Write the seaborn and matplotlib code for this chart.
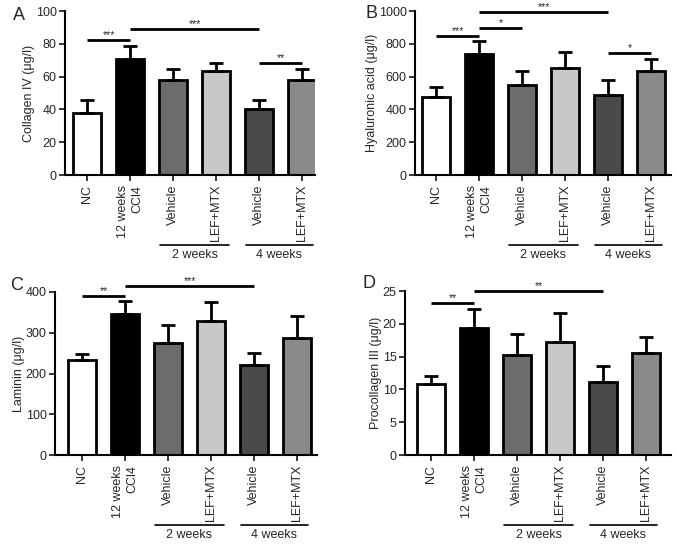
import matplotlib
matplotlib.use("Agg")
import matplotlib.pyplot as plt
import matplotlib.transforms as mtransforms
import seaborn as sns
import numpy as np
import pandas as pd

sns.set_theme(style="ticks")
plt.rcParams['font.family'] = ['Liberation Sans', 'DejaVu Sans']
plt.rcParams['font.stretch'] = 'normal'

# ---- data ----
groups = ["NC", "CCl4", "Veh2", "LEF2", "Veh4", "LEF4"]
tick_labels = ["NC", "12 weeks\nCCl4", "Vehicle", "LEF+MTX", "Vehicle", "LEF+MTX"]
bar_colors = ["#ffffff", "#000000", "#6c6c6c", "#c8c8c8", "#4a4a4a", "#8a8a8a"]

collagen_mean = [38, 70.5, 58, 63.5, 40.5, 58]
collagen_top = [45.5, 78.5, 64.5, 68.5, 46, 64.5]

hyaluronic_mean = [478, 738, 550, 655, 490, 637]
hyaluronic_top = [538, 820, 635, 750, 578, 707]

laminin_mean = [233, 347, 275, 328, 222, 288]
laminin_top = [247, 377, 320, 376, 251, 340]

procollagen_mean = [10.8, 19.4, 15.2, 17.2, 11.2, 15.6]
procollagen_top = [12.0, 22.3, 18.5, 21.7, 13.5, 18.0]

panels = [
    dict(letter="A", mean=collagen_mean, top=collagen_top, ylabel="Collagen IV (\u03bcg/l)",
         ylim=(0, 100), yticks=[0, 20, 40, 60, 80, 100],
         px=(65, 315, 11, 175), nc=87,
         sig=[(0, 1, 82.3, "***"), (1, 4, 88.8, "***"), (4, 5, 68.5, "**")],
         letter_pos=(13, 16)),
    dict(letter="B", mean=hyaluronic_mean, top=hyaluronic_top, ylabel="Hyaluronic acid (\u03bcg/l)",
         ylim=(0, 1000), yticks=[0, 200, 400, 600, 800, 1000],
         px=(415, 671, 11, 175), nc=436,
         sig=[(0, 1, 849, "***"), (1, 2, 898, "*"), (1, 4, 996, "***"), (4, 5, 742, "*")],
         letter_pos=(366, 14)),
    dict(letter="C", mean=laminin_mean, top=laminin_top, ylabel="Laminin (\u03bcg/l)",
         ylim=(0, 400), yticks=[0, 100, 200, 300, 400],
         px=(55, 317, 292, 455), nc=82,
         sig=[(0, 1, 389, "**"), (1, 4, 414.7, "***")],
         letter_pos=(10, 285)),
    dict(letter="D", mean=procollagen_mean, top=procollagen_top, ylabel="Procollagen III (\u03bcg/l)",
         ylim=(0, 25), yticks=[0, 5, 10, 15, 20, 25],
         px=(405, 671, 291, 455), nc=431,
         sig=[(0, 1, 23.2, "**"), (1, 4, 25.05, "**")],
         letter_pos=(362, 284)),
]

W, H = 677, 544
fig = plt.figure(figsize=(W / 100, H / 100), dpi=100)
spacing = 43.0
FS = 9

for p in panels:
    l, r, t, b = p["px"]
    ax = fig.add_axes([l / W, 1 - b / H, (r - l) / W, (b - t) / H])
    df = pd.DataFrame({"group": groups, "value": p["mean"]})
    sns.barplot(data=df, x="group", y="value", hue="group", palette=bar_colors,
                legend=False, edgecolor="black", linewidth=2, width=0.65,
                order=groups, hue_order=groups, ax=ax, errorbar=None, saturation=1)
    means = np.array(p["mean"], dtype=float)
    tops = np.array(p["top"], dtype=float)
    ax.errorbar(np.arange(len(groups)), means, yerr=[np.zeros_like(means), tops - means],
                fmt="none", ecolor="black", elinewidth=2, capsize=5, capthick=2, zorder=1)
    ax.set_xlim((l - p["nc"]) / spacing, (r - p["nc"]) / spacing)
    ax.set_ylim(*p["ylim"])
    ax.set_yticks(p["yticks"])
    ax.set_xticks(range(len(groups)))
    ax.set_xticklabels(tick_labels, rotation=90, ha="center", va="top",
                       multialignment="right", fontsize=FS)
    ax.tick_params(axis="y", labelsize=FS, width=1.3, length=4, pad=2)
    ax.tick_params(axis="x", width=1.3, length=4, pad=3)
    for s in ["top", "right"]:
        ax.spines[s].set_visible(False)
    for s in ["left", "bottom"]:
        ax.spines[s].set_linewidth(1.5)
        ax.spines[s].set_color("black")
    ax.set_xlabel("")
    ax.set_ylabel(p["ylabel"], fontsize=FS, labelpad=0.5)

    # significance bars
    for a, bb, y, txt in p["sig"]:
        ax.plot([a, bb], [y, y], color="black", lw=2, clip_on=False, solid_capstyle="butt")
        ax.text((a + bb) / 2, y, txt, ha="center", va="bottom", fontsize=7.5, clip_on=False)

    # group lines
    trans = mtransforms.blended_transform_factory(ax.transData, ax.transAxes)
    h = b - t
    y_line = (b - (b + 70)) / h
    y_text = (b - (b + 80)) / h
    for x0, x1, lab in [(1.7, 3.3, "2 weeks"), (3.7, 5.25, "4 weeks")]:
        ax.plot([x0, x1], [y_line, y_line], color="black", lw=1.2, transform=trans, clip_on=False)
        ax.text((x0 + x1) / 2, y_text, lab, transform=trans, ha="center", va="center", fontsize=FS)

    fig.text(p["letter_pos"][0] / W, 1 - p["letter_pos"][1] / H, p["letter"],
             fontsize=13, ha="left", va="center")

fig.savefig("out.png", dpi=100)
